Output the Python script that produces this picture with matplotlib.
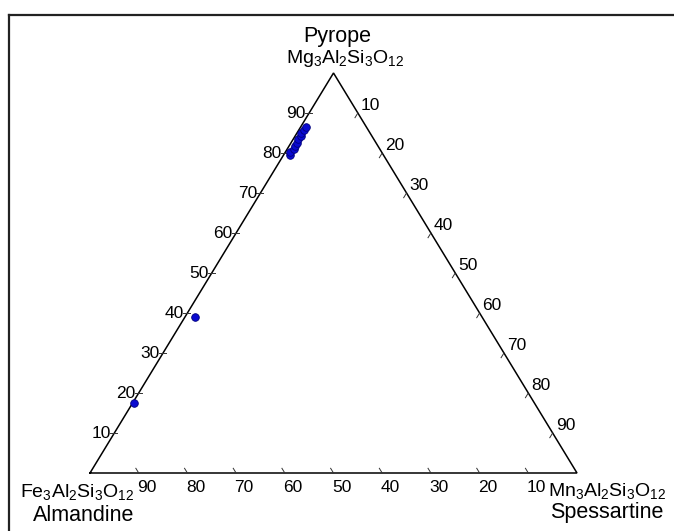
import numpy as np
import matplotlib
matplotlib.use("Agg")
import matplotlib.pyplot as plt
from matplotlib.lines import Line2D

plt.rcParams['font.family'] = ['Liberation Sans', 'DejaVu Sans']
plt.rcParams['mathtext.fontset'] = 'custom'
plt.rcParams['mathtext.rm'] = 'Liberation Sans'
plt.rcParams['mathtext.it'] = 'Liberation Sans'
plt.rcParams['mathtext.bf'] = 'Liberation Sans:bold'

# ------------------------------------------------------------
# data (mol %)
# ------------------------------------------------------------
pyrope = [79.5, 80.3, 81.0, 81.8, 82.6, 83.4, 84.2, 85.0, 85.8, 86.6, 39.0, 17.5]
spessartine = [1.3, 1.0, 1.4, 1.1, 1.3, 1.0, 1.2, 0.9, 1.1, 1.0, 2.0, 0.3]
almandine = [100 - p - s for p, s in zip(pyrope, spessartine)]

tick_values = [10, 20, 30, 40, 50, 60, 70, 80, 90]

W, H = 674, 531
# triangle corners in pixels: left (90,473), right (577,473), top (334,73)
x0, ybase, tri_w, tri_h = 90, 473, 487, 400


def to_xy(p, s):
    p = np.asarray(p) / 100.0
    s = np.asarray(s) / 100.0
    return s + p / 2.0, p


fig = plt.figure(figsize=(W / 100, H / 100), dpi=100)
ax = fig.add_axes([x0 / W, (H - ybase) / H, tri_w / W, tri_h / H])
ax.set_xlim(0, 1)
ax.set_ylim(0, 1)
ax.axis('off')

# frame around the picture
fig.add_artist(Line2D([8.5 / W, 1.0], [1 - 15 / H, 1 - 15 / H], color='#222222', lw=1.6))
fig.add_artist(Line2D([8.5 / W, 8.5 / W], [0, 1 - 15 / H], color='#222222', lw=1.6))

# triangle
ax.plot([0, 1, 0.5, 0], [0, 0, 1, 0], color='black', lw=1.1, clip_on=False,
        solid_joinstyle='miter')

px = 1.0 / tri_w   # data units per pixel in x
py = 1.0 / tri_h   # data units per pixel in y
edge_len = np.hypot(0.5 * tri_w, tri_h)
t = 5.5 / edge_len
tfs = 12.5

for v in tick_values:
    # left edge: pyrope
    x, y = to_xy(v, 0)
    ax.plot([x - 4 * px, x + 3 * px], [y, y], color='#333333', lw=0.7, clip_on=False)
    ax.text(x - 3.5 * px, y, str(v), ha='right', va='center', fontsize=tfs, clip_on=False)

    # bottom edge: almandine (100 at left corner)
    x, y = to_xy(0, 100 - v)
    ax.plot([x, x - 0.5 * t], [y, y + t], color='#333333', lw=0.7, clip_on=False)
    ax.text(x + 8 * px, y - 15 * py, str(v), ha='center', va='center', fontsize=tfs,
            clip_on=False)

    # right edge: spessartine
    x, y = to_xy(100 - v, v)
    ax.plot([x, x - 0.5 * t], [y, y - t], color='#333333', lw=0.7, clip_on=False)
    ax.text(x + 3 * px, y, str(v), ha='left', va='bottom', fontsize=tfs, clip_on=False)

# samples
xs, ys = to_xy(pyrope, spessartine)
ax.scatter(xs, ys, s=30, color='#0a0ad0', edgecolors='#00007a', linewidths=0.6,
           zorder=5, clip_on=False)

# corner labels
fs_name = 15.5
fs_form = 14
fig.text(337 / W, 1 - 42 / H, 'Pyrope', ha='center', va='baseline', fontsize=fs_name)
fig.text(345 / W, 1 - 63 / H, r'Mg$_3$Al$_2$Si$_3$O$_{12}$', ha='center', va='baseline',
         fontsize=fs_form)
fig.text(20 / W, 1 - 497 / H, r'Fe$_3$Al$_2$Si$_3$O$_{12}$', ha='left', va='baseline',
         fontsize=fs_form)
fig.text(84 / W, 1 - 521 / H, 'Almandine', ha='center', va='baseline', fontsize=fs_name)
fig.text(548 / W, 1 - 496 / H, r'Mn$_3$Al$_2$Si$_3$O$_{12}$', ha='left', va='baseline',
         fontsize=fs_form)
fig.text(607 / W, 1 - 518 / H, 'Spessartine', ha='center', va='baseline', fontsize=fs_name)

fig.savefig('out.png', dpi=100)
